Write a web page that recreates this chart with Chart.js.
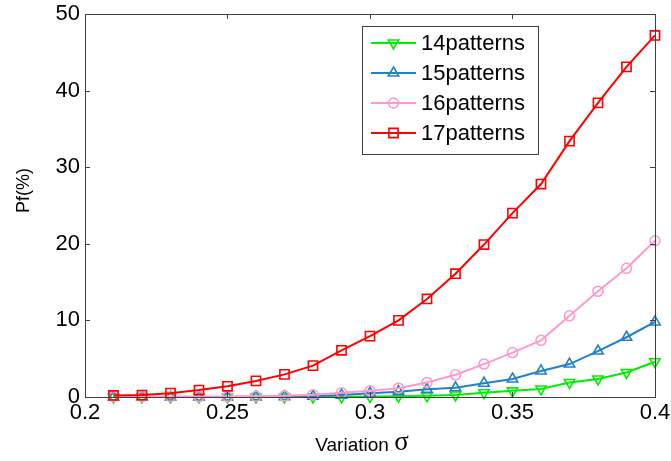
<!DOCTYPE html>
<html>
<head>
<meta charset="utf-8">
<script src="https://cdn.jsdelivr.net/npm/chart.js@4.4.1/dist/chart.umd.min.js"></script>
<style>
  html, body { margin: 0; padding: 0; background: #fff; }
  #wrap { width: 671px; height: 461px; }
</style>
</head>
<body>
<div id="wrap"><canvas id="pfChart" width="671" height="461"></canvas></div>
<script>
// values
var sigma = [0.21, 0.22, 0.23, 0.24, 0.25, 0.26, 0.27, 0.28, 0.29, 0.30,
             0.31, 0.32, 0.33, 0.34, 0.35, 0.36, 0.37, 0.38, 0.39, 0.40];
var pf14 = [0, 0, 0, 0, 0, 0, 0, 0, 0.02, 0.05, 0.1, 0.15, 0.26, 0.56, 0.8, 1.05, 1.9, 2.35, 3.2, 4.6];
var pf15 = [0, 0, 0, 0, 0, 0.02, 0.05, 0.1, 0.25, 0.5, 0.7, 1.0, 1.2, 1.8, 2.35, 3.4, 4.3, 6.0, 7.8, 9.8];
var pf16 = [0.05, 0.05, 0.05, 0.05, 0.05, 0.1, 0.15, 0.3, 0.55, 0.8, 1.15, 1.9, 2.9, 4.3, 5.8, 7.4, 10.6, 13.8, 16.8, 20.4];
var pf17 = [0.2, 0.25, 0.5, 0.9, 1.4, 2.1, 2.95, 4.1, 6.1, 7.95, 10.0, 12.8, 16.1, 19.9, 24.0, 27.8, 33.4, 38.4, 43.1, 47.2];
var seriesNames = ["14patterns", "15patterns", "16patterns", "17patterns"];
var xTicks = [0.2, 0.25, 0.3, 0.35, 0.4];
var yTicks = [0, 10, 20, 30, 40, 50];

var FONT = "'Liberation Sans', Arial, sans-serif";

function pts(arr) {
    return sigma.map(function (s, i) { return { x: s, y: arr[i] }; });
}

function makeSet(label, arr, color, style, rot, radius, order) {
    return {
        label: label,
        data: pts(arr),
        borderColor: color,
        backgroundColor: color,
        borderWidth: 2,
        pointStyle: style,
        rotation: rot,
        pointRadius: radius,
        pointBorderWidth: 1.6,
        pointBorderColor: color,
        pointBackgroundColor: "rgba(0,0,0,0)",
        tension: 0,
        clip: false,
        order: order
    };
}

var dataPf = {
    datasets: [
        makeSet(seriesNames[0], pf14, "#00ee00", "triangle", 180, 6, 3),
        makeSet(seriesNames[1], pf15, "#2080c8", "triangle", 0, 6, 2),
        makeSet(seriesNames[2], pf16, "#ff99cc", "circle", 0, 5, 1),
        makeSet(seriesNames[3], pf17, "#ff0000", "rect", 0, 6.5, 0)
    ]
};

// matlab-ish frame, inward ticks, axis titles and boxed legend
var matlabAxes = {
    id: "matlabAxes",
    afterDraw: function (chart) {
        var ctx = chart.ctx, a = chart.chartArea;
        var xs = chart.scales.x, ys = chart.scales.y;
        var tl = 5;
        ctx.save();
        ctx.strokeStyle = "#404040";
        ctx.lineWidth = 1;
        ctx.strokeRect(Math.round(a.left) + 0.5, Math.round(a.top) + 0.5,
                       Math.round(a.right - a.left), Math.round(a.bottom - a.top));
        ctx.beginPath();
        xs.ticks.forEach(function (t) {
            var px = Math.round(xs.getPixelForValue(t.value)) + 0.5;
            ctx.moveTo(px, a.bottom); ctx.lineTo(px, a.bottom - tl);
            ctx.moveTo(px, a.top); ctx.lineTo(px, a.top + tl);
        });
        ys.ticks.forEach(function (t) {
            var py = Math.round(ys.getPixelForValue(t.value)) + 0.5;
            ctx.moveTo(a.left, py); ctx.lineTo(a.left + tl, py);
            ctx.moveTo(a.right, py); ctx.lineTo(a.right - tl, py);
        });
        ctx.stroke();

        // axis titles
        ctx.fillStyle = "#000";
        ctx.textBaseline = "alphabetic";
        var cx = (a.left + a.right) / 2;
        ctx.font = "19px " + FONT;
        ctx.textAlign = "left";
        var w1 = ctx.measureText("Variation ").width;
        ctx.font = "27px 'Liberation Serif', serif";
        var w2 = ctx.measureText("\u03c3").width;
        var x0 = cx - 8 - (w1 + w2) / 2;
        ctx.font = "19px " + FONT;
        ctx.fillText("Variation ", x0, a.bottom + 54);
        ctx.font = "27px 'Liberation Serif', serif";
        ctx.fillText("\u03c3", x0 + w1, a.bottom + 53);

        ctx.save();
        ctx.translate(24, (a.top + a.bottom) / 2 - 15);
        ctx.rotate(-Math.PI / 2);
        ctx.font = "18px " + FONT;
        ctx.textAlign = "center";
        ctx.textBaseline = "middle";
        ctx.fillText("Pf(%)", 0, 0);
        ctx.restore();

        // legend
        var lx = a.left + 277, ly = a.top + 12, lw = 176, lh = 128;
        ctx.fillStyle = "#fff";
        ctx.fillRect(lx, ly, lw, lh);
        ctx.strokeStyle = "#404040";
        ctx.strokeRect(lx + 0.5, ly + 0.5, lw, lh);
        chart.data.datasets.forEach(function (ds, i) {
            var ry = ly + 17 + i * 30;
            ctx.strokeStyle = ds.borderColor;
            ctx.lineWidth = 2;
            ctx.beginPath();
            ctx.moveTo(lx + 9, ry); ctx.lineTo(lx + 54, ry);
            ctx.stroke();
            ctx.lineWidth = ds.pointBorderWidth;
            ctx.fillStyle = ds.pointBackgroundColor;
            Chart.helpers.drawPoint(ctx, {
                pointStyle: ds.pointStyle,
                rotation: ds.rotation,
                radius: ds.pointRadius,
                borderWidth: ds.pointBorderWidth
            }, lx + 31.5, ry);
            ctx.fillStyle = "#000";
            ctx.font = "22px " + FONT;
            ctx.textAlign = "left";
            ctx.textBaseline = "middle";
            ctx.fillText(ds.label, lx + 59, ry + 1);
        });
        ctx.restore();
    }
};

var optPf = {
    responsive: false,
    animation: false,
    layout: { padding: { top: 14, right: 16, left: 0, bottom: 0 } },
    plugins: {
        legend: { display: false },
        tooltip: { enabled: false }
    },
    scales: {
        x: {
            type: "linear",
            min: 0.2,
            max: 0.4,
            afterFit: function (scale) {
                scale.height = 64;
                scale.paddingLeft = 0;
                scale.paddingRight = 0;
            },
            afterBuildTicks: function (scale) {
                scale.ticks = xTicks.map(function (v) { return { value: v }; });
            },
            ticks: {
                color: "#000",
                font: { family: FONT, size: 22 },
                padding: 3,
                maxRotation: 0,
                callback: function (v) { return String(Math.round(v * 100) / 100); }
            },
            grid: { drawOnChartArea: false, drawTicks: false },
            border: { display: false }
        },
        y: {
            min: 0,
            max: 50,
            afterFit: function (scale) {
                scale.width = 85;
                scale.paddingTop = 0;
                scale.paddingBottom = 0;
            },
            afterBuildTicks: function (scale) {
                scale.ticks = yTicks.map(function (v) { return { value: v }; });
            },
            ticks: {
                color: "#000",
                font: { family: FONT, size: 22 },
                padding: 5
            },
            grid: { drawOnChartArea: false, drawTicks: false },
            border: { display: false }
        }
    }
};

(function () {
    var pfObj = document.getElementById("pfChart").getContext("2d");
    var pfChart = new Chart(pfObj, {
        type: "line",
        data: dataPf,
        options: optPf,
        plugins: [matlabAxes]
    });
})();
</script>
</body>
</html>
